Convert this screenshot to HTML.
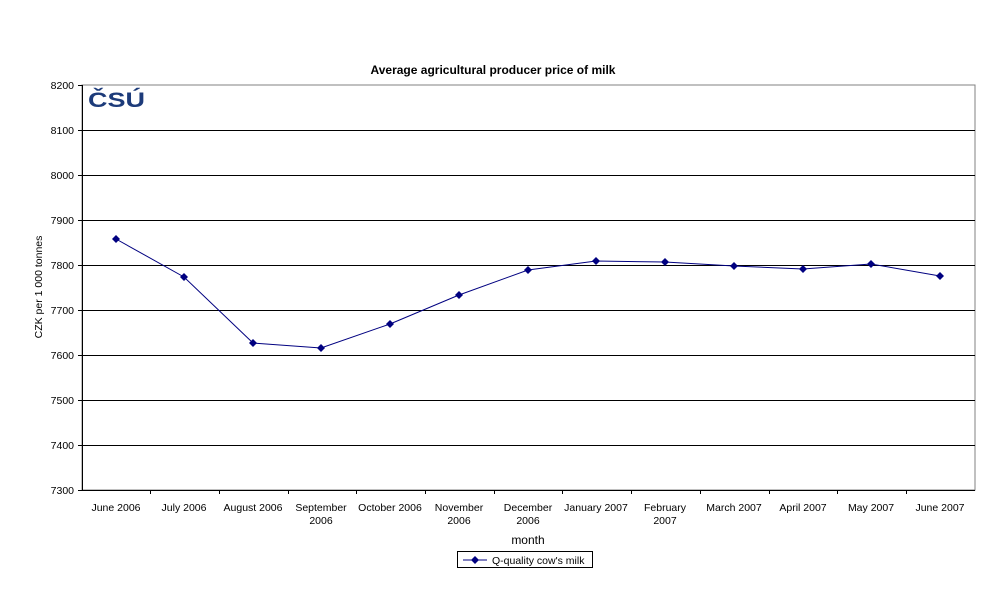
<!DOCTYPE html>
<html><head><meta charset="utf-8"><style>body{margin:0;background:#fff}</style></head><body>
<svg width="987" height="597" xmlns="http://www.w3.org/2000/svg" font-family="Liberation Sans, Arial, sans-serif" font-size="11">
<rect width="987" height="597" fill="#fff"/>
<text x="493" y="74" text-anchor="middle" font-weight="bold" font-size="12">Average agricultural producer price of milk</text>
<rect x="82" y="85" width="893" height="405" fill="#fff" stroke="#808080"/>
<g stroke="#000" stroke-width="1">
<line x1="82" y1="130.5" x2="975" y2="130.5"/><line x1="82" y1="175.5" x2="975" y2="175.5"/>
<line x1="82" y1="220.5" x2="975" y2="220.5"/><line x1="82" y1="265.5" x2="975" y2="265.5"/>
<line x1="82" y1="310.5" x2="975" y2="310.5"/><line x1="82" y1="355.5" x2="975" y2="355.5"/>
<line x1="82" y1="400.5" x2="975" y2="400.5"/><line x1="82" y1="445.5" x2="975" y2="445.5"/>
<line x1="82" y1="490.5" x2="975" y2="490.5"/><line x1="82.5" y1="85" x2="82.5" y2="490"/>
</g>
<g stroke="#000">
<line x1="78" y1="85.5" x2="82" y2="85.5"/><line x1="78" y1="130.5" x2="82" y2="130.5"/><line x1="78" y1="175.5" x2="82" y2="175.5"/><line x1="78" y1="220.5" x2="82" y2="220.5"/><line x1="78" y1="265.5" x2="82" y2="265.5"/><line x1="78" y1="310.5" x2="82" y2="310.5"/><line x1="78" y1="355.5" x2="82" y2="355.5"/><line x1="78" y1="400.5" x2="82" y2="400.5"/><line x1="78" y1="445.5" x2="82" y2="445.5"/><line x1="78" y1="490.5" x2="82" y2="490.5"/>
<line x1="150.5" y1="490" x2="150.5" y2="494"/><line x1="219.5" y1="490" x2="219.5" y2="494"/><line x1="288.5" y1="490" x2="288.5" y2="494"/><line x1="356.5" y1="490" x2="356.5" y2="494"/><line x1="425.5" y1="490" x2="425.5" y2="494"/><line x1="494.5" y1="490" x2="494.5" y2="494"/><line x1="562.5" y1="490" x2="562.5" y2="494"/><line x1="631.5" y1="490" x2="631.5" y2="494"/><line x1="700.5" y1="490" x2="700.5" y2="494"/><line x1="769.5" y1="490" x2="769.5" y2="494"/><line x1="837.5" y1="490" x2="837.5" y2="494"/><line x1="906.5" y1="490" x2="906.5" y2="494"/>
</g>
<g text-anchor="end" font-size="10.5">
<text x="74" y="89">8200</text><text x="74" y="134">8100</text><text x="74" y="179">8000</text><text x="74" y="224">7900</text><text x="74" y="269">7800</text><text x="74" y="314">7700</text><text x="74" y="359">7600</text><text x="74" y="404">7500</text><text x="74" y="449">7400</text><text x="74" y="494">7300</text>
</g>
<text transform="translate(42,287) rotate(-90)" text-anchor="middle" font-size="10.5">CZK per 1 000 tonnes</text>
<g text-anchor="middle" font-size="10.5">
<text x="116" y="511">June 2006</text><text x="184" y="511">July 2006</text><text x="253" y="511">August 2006</text>
<text x="321" y="511">September</text><text x="321" y="524">2006</text>
<text x="390" y="511">October 2006</text>
<text x="459" y="511">November</text><text x="459" y="524">2006</text>
<text x="528" y="511">December</text><text x="528" y="524">2006</text>
<text x="596" y="511">January 2007</text>
<text x="665" y="511">February</text><text x="665" y="524">2007</text>
<text x="734" y="511">March 2007</text><text x="803" y="511">April 2007</text><text x="871" y="511">May 2007</text><text x="940" y="511">June 2007</text>
</g>
<text x="528" y="544" text-anchor="middle" font-size="12">month</text>
<text x="88" y="107" font-size="21" font-weight="900" fill="#1d3b7a" textLength="57" lengthAdjust="spacingAndGlyphs">ČSÚ</text>
<polyline fill="none" stroke="#000080" stroke-width="1" points="116,239 184,277 253,343 321,348 390,324 459,295 528,270 596,261 665,262 734,266 803,269 871,264 940,276"/>
<g fill="#000080">
<path d="M116,235l4,4l-4,4l-4,-4z"/><path d="M184,273l4,4l-4,4l-4,-4z"/><path d="M253,339l4,4l-4,4l-4,-4z"/><path d="M321,344l4,4l-4,4l-4,-4z"/><path d="M390,320l4,4l-4,4l-4,-4z"/><path d="M459,291l4,4l-4,4l-4,-4z"/><path d="M528,266l4,4l-4,4l-4,-4z"/><path d="M596,257l4,4l-4,4l-4,-4z"/><path d="M665,258l4,4l-4,4l-4,-4z"/><path d="M734,262l4,4l-4,4l-4,-4z"/><path d="M803,265l4,4l-4,4l-4,-4z"/><path d="M871,260l4,4l-4,4l-4,-4z"/><path d="M940,272l4,4l-4,4l-4,-4z"/>
</g>
<rect x="457.5" y="551.5" width="135" height="16" fill="#fff" stroke="#000"/>
<line x1="463" y1="560" x2="487" y2="560" stroke="#000080"/>
<path d="M475,556l4,4l-4,4l-4,-4z" fill="#000080"/>
<text x="492" y="564" font-size="10.5">Q-quality cow's milk</text>
</svg>
</body></html>
